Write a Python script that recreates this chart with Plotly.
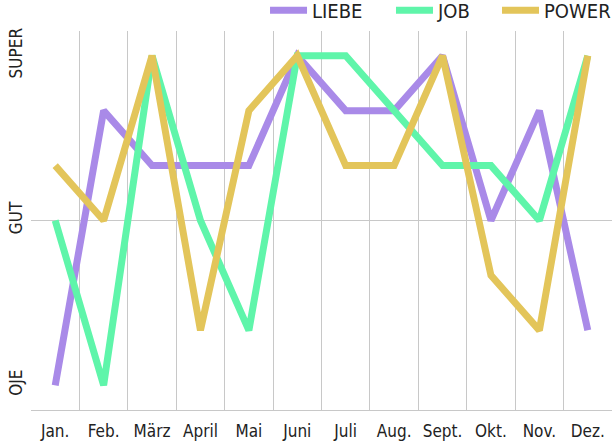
import plotly.graph_objects as go

months = ["Jan.", "Feb.", "März", "April", "Mai", "Juni", "Juli", "Aug.", "Sept.", "Okt.", "Nov.", "Dez."]
liebe = [-3, 2, 1, 1, 1, 3, 2, 2, 3, 0, 2, -2]
job = [0, -3, 3, 0, -2, 3, 3, 2, 1, 1, 0, 3]
power = [1, 0, 3, -2, 2, 3, 1, 1, 3, -1, -2, 3]
y_ticks = [-3, 0, 3]
y_labels = ["OJE", "GUT", "SUPER"]

FONT = "'DejaVu Sans Condensed', 'Liberation Sans Narrow', Roboto, sans-serif"

series = [("LIEBE", liebe, "#a98ae8", "legend", 0.4028, "left"),
          ("JOB", job, "#5ff5aa", "legend2", 0.6196, "left"),
          ("POWER", power, "#e3c55a", "legend3", 1.0069, "right")]

fig = go.Figure()
legends = {}
for name, vals, col, lg, lx, anc in series:
    fig.add_trace(go.Scatter(x=months, y=vals, name=name, mode="lines", legend=lg,
                             line=dict(color=col, width=7)))
    legends[lg] = dict(orientation="h", x=lx, xanchor=anc, y=1.055, yanchor="middle",
                       font=dict(size=20, color="#222"), itemwidth=37, bgcolor="rgba(0,0,0,0)")

fig.update_layout(
    width=616, height=444,
    margin=dict(l=31, r=4, t=31, b=34, autoexpand=False),
    paper_bgcolor="white", plot_bgcolor="white",
    font=dict(family=FONT, size=17, color="#222"),
    showlegend=True,
    xaxis=dict(type="category", tickson="boundaries", showgrid=True, gridcolor="#c8c8c8", gridwidth=1,
               range=[-0.5, 11.5], ticks="", showline=True, linecolor="#c8c8c8",
               tickfont=dict(size=17), ticklabelstandoff=6),
    yaxis=dict(range=[-3.45, 3.45], tickvals=y_ticks, ticktext=y_labels, tickangle=-90,
               showgrid=False, zeroline=True, zerolinecolor="#c8c8c8", zerolinewidth=1,
               showline=False, ticks="", tickfont=dict(size=17), ticklabelstandoff=5),
    **legends,
)
fig.write_html("out.html")
